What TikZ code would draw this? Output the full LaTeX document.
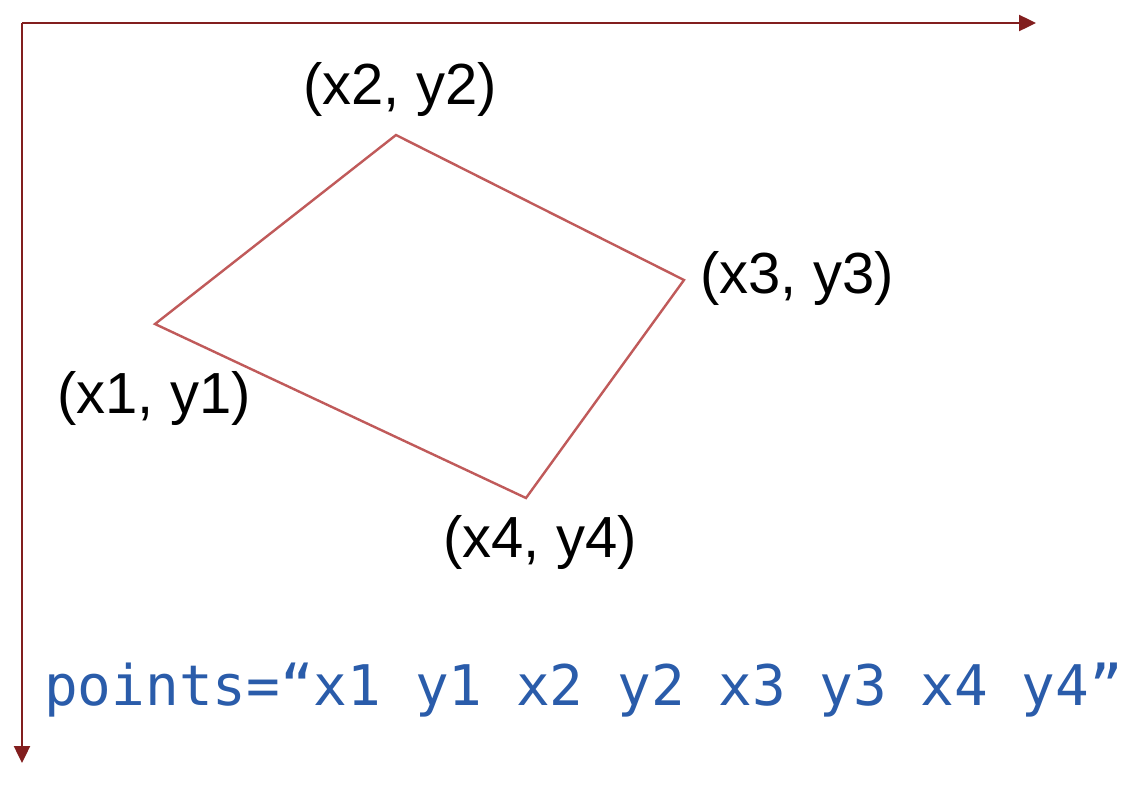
\documentclass[tikz,border=0pt]{standalone}
\usepackage{fontspec}
\setmainfont{Liberation Sans}
\newfontfamily\codefont{DejaVu Sans Mono}
\usetikzlibrary{arrows.meta}
\definecolor{axisred}{HTML}{821E1E}
\definecolor{polyred}{HTML}{C05A5A}
\definecolor{codeblue}{HTML}{2A5CAA}
\tikzset{
  axis/.style={draw=axisred, line width=2.4pt, -{Triangle[length=17pt,width=16pt]}},
  poly/.style={draw=polyred, line width=2.4pt, line join=miter},
  lbl/.style={font=\fontsize{58}{64}\selectfont, inner sep=0pt, text=black},
  code/.style={font=\codefont\fontsize{56}{64}\selectfont, text=codeblue, inner sep=0pt, anchor=base west}
}
\begin{document}
\begin{tikzpicture}[x=1pt,y=-1pt]
\useasboundingbox[fill=white] (0,0) rectangle (1137,804);
\coordinate (o) at (22,23);
\coordinate (xe) at (1036,23);
\coordinate (ye) at (22,763);
\draw[axis] (o) -- (xe);
\draw[axis] (o) -- (ye);
\coordinate (p1) at (155,324);
\coordinate (p2) at (396,135);
\coordinate (p3) at (684,280);
\coordinate (p4) at (526,498);
\draw[poly] (p1) -- (p2) -- (p3) -- (p4) -- cycle;
\node[lbl] (l2) at (400,89) {(x2, y2)};
\node[lbl] (l3) at (797,278) {(x3, y3)};
\node[lbl] (l1) at (154,398) {(x1, y1)};
\node[lbl] (l4) at (540,542) {(x4, y4)};
\node[code] (c) at (44,705) {points=“x1 y1 x2 y2 x3 y3 x4 y4”};
\end{tikzpicture}
\end{document}
